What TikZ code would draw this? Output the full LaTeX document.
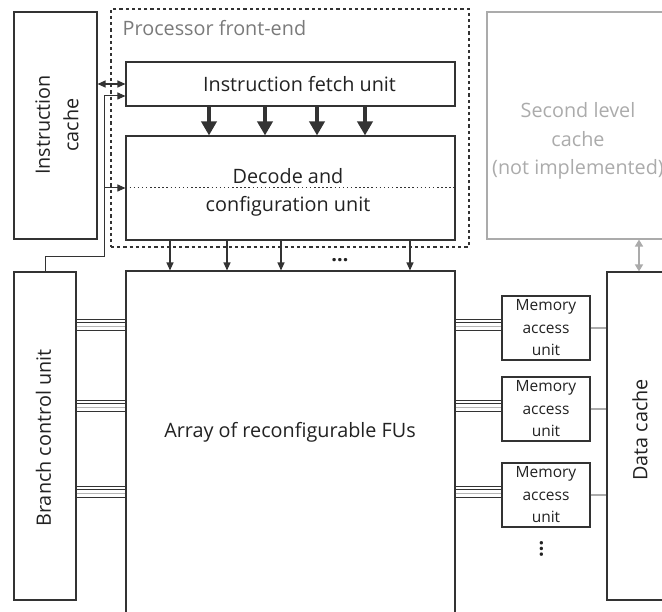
\documentclass[tikz,border=0pt]{standalone}
\usepackage{fontspec}
\setmainfont{Open Sans}
\usetikzlibrary{arrows.meta}

\definecolor{ink}{HTML}{333333}
\definecolor{textink}{HTML}{222222}
\definecolor{faint}{HTML}{ABABAB}
\definecolor{busgray}{HTML}{B5B5B5}
\definecolor{labelgray}{HTML}{7A7A7A}

\tikzset{
  box/.style={draw=ink, line width=1.1pt, rectangle, inner sep=0pt, fill=white},
  ghostbox/.style={draw=faint, line width=1.1pt, rectangle, inner sep=0pt},
  frontend/.style={draw=ink, line width=1.5pt, dash pattern=on 3.2pt off 3pt, rectangle, inner sep=0pt},
  big/.style={font=\fontsize{19.8}{28.5}\selectfont, text=textink, inner sep=0pt, align=center},
  small/.style={font=\fontsize{15.5}{22.5}\selectfont, text=textink, inner sep=0pt, align=center},
  dotsfont/.style={font=\fontsize{20}{24}\selectfont\bfseries, text=textink, inner sep=0pt},
  fatarrow/.style={draw=ink, line width=3.6pt, -{Triangle[width=15pt,length=14pt]}},
  thinarrow/.style={draw=ink, line width=1.2pt, -{Triangle[width=7pt,length=8pt]}},
  grayarrow/.style={draw=faint, line width=1.6pt, {Triangle[width=8pt,length=7pt]}-{Triangle[width=8pt,length=7pt]}},
}

\begin{document}
\begin{tikzpicture}[x=1pt, y=-1pt]
  \useasboundingbox (0,0) rectangle (662,612);
  \clip (0,0) rectangle (662,612);

  % ---- processor front-end ----
  \node[frontend, minimum width=358pt, minimum height=238pt] (fe) at (290,128) {};
  \node[big, text=labelgray, anchor=base west] (felabel) at (122.5,36) {Processor front-end};

  \node[box, minimum width=329pt, minimum height=44pt] (fetch) at (290.5,84) {};
  \node[big, anchor=base] (fetchtext) at (299.5,92) {Instruction fetch unit};

  \node[box, minimum width=329pt, minimum height=104pt] (decode) at (290.5,188) {};
  \draw[ink, line width=1pt, dash pattern=on 1.5pt off 2.6pt] (decode.west) -- (decode.east);
  \node[big, anchor=base] (decodetext1) at (288,184) {Decode and};
  \node[big, anchor=base] (decodetext2) at (288,212) {configuration unit};

  % ---- caches and side units ----
  \node[box, minimum width=83pt, minimum height=227pt] (ic) at (55.5,125.5) {};
  \node[big, rotate=90] (ictext) at (57,125) {Instruction\\cache};

  \node[ghostbox, minimum width=186pt, minimum height=227pt] (l2) at (580,125.5) {};
  \node[big, text=faint] (l2text) at (578,141) {Second level\\cache\\(not implemented)};

  \node[box, minimum width=62pt, minimum height=328pt] (bcu) at (45,436) {};
  \node[big, rotate=90] (bcutext) at (43.5,438) {Branch control unit};

  \node[box, minimum width=329pt, minimum height=369pt] (array) at (290.5,455.5) {};
  \node[big] (arraytext) at (290,432) {Array of reconfigurable FUs};

  \node[box, minimum width=72pt, minimum height=328pt] (dc) at (643,436) {};
  \node[big, rotate=90] (dctext) at (640,430) {Data cache};

  \node[box, minimum width=88pt, minimum height=64pt] (mau1) at (546,328) {};
  \node[box, minimum width=88pt, minimum height=64pt] (mau2) at (546,409) {};
  \node[box, minimum width=88pt, minimum height=64pt] (mau3) at (546,495) {};
  \foreach \m in {mau1,mau2,mau3}
    \node[small] at (\m) {Memory\\access\\unit};
  \node[dotsfont, rotate=90] (vdots) at (541.5,548.5) {…};

  % ---- fetch to decode ----
  \foreach \x in {209,265,317,365}
    \draw[fatarrow] ([xshift=\x pt-290.5pt]fetch.south) -- ([xshift=\x pt-290.5pt]decode.north);

  % ---- decode to array ----
  \foreach \x in {170,227,281,410}
    \draw[thinarrow] ([xshift=\x pt-290.5pt]decode.south) -- ([xshift=\x pt-290.5pt]array.north);
  \node[dotsfont, anchor=base] (hdots) at (340,262) {…};

  % ---- instruction cache and branch unit to the front-end ----
  \draw[draw=ink, line width=1.2pt, {Triangle[width=7pt,length=8pt]}-{Triangle[width=7pt,length=8pt]}]
    (ic.east |- fetch.west) -- (fetch.west);
  \coordinate (bj) at (104,257);
  \draw[thinarrow, line width=1pt] (bcu.north) |- (bj) |- ([yshift=-12pt]fetch.west);
  \draw[thinarrow, line width=1pt] (bj |- decode.west) -- (decode.west);

  % ---- buses: branch unit / array / memory access units ----
  \foreach \m in {mau1,mau2,mau3} {
    \foreach \d/\c in {-6/ink,-2.5/ink,1.5/busgray,5.5/ink} {
      \draw[\c, line width=0.9pt] ([yshift={(3-(\d))*1pt}]bcu.east |- \m.west) -- ([yshift={(3-(\d))*1pt}]array.west |- \m.west);
      \draw[\c, line width=0.9pt] ([yshift={(3-(\d))*1pt}]array.east |- \m.west) -- ([yshift={(3-(\d))*1pt}]\m.west);
    }
    \draw[faint, line width=1.2pt] (\m.east) -- (dc.west |- \m.east);
  }

  % ---- second level cache link ----
  \draw[grayarrow] ([xshift=-4pt]l2.south -| dc.north) -- ([xshift=-4pt]dc.north);
\end{tikzpicture}
\end{document}
